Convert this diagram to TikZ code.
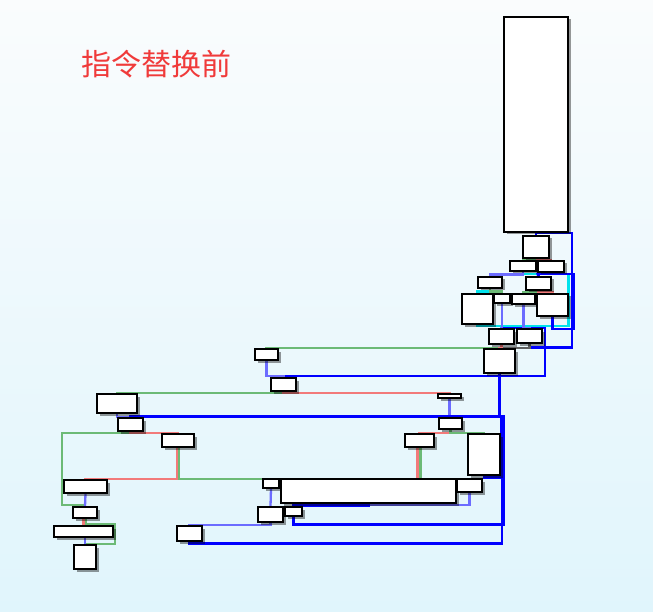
\documentclass[tikz,border=0pt]{standalone}
\usepackage{fontspec}
\newfontfamily\cjkfont{Noto Sans CJK SC}
\usepackage{tikz}
\usetikzlibrary{shadows}
\pgfdeclarelayer{back}
\pgfdeclarelayer{edges}
\pgfsetlayers{back,edges,main}
\definecolor{jmpblue}{RGB}{0,0,255}
\definecolor{seqblue}{RGB}{108,108,255}
\definecolor{truegreen}{RGB}{108,186,118}
\definecolor{falsered}{RGB}{242,122,122}
\definecolor{loopcyan}{RGB}{0,226,236}
\definecolor{mixgray}{RGB}{95,95,95}
\definecolor{titlered}{RGB}{240,58,58}
\definecolor{bgtop}{RGB}{250,252,253}
\definecolor{bgbottom}{RGB}{224,245,252}

\begin{document}
\begin{tikzpicture}[
			x=1pt, y=-1pt,
			blk/.style={draw=black, line width=1.3pt, fill=white, inner sep=0pt,
				drop shadow={shadow xshift=2.5pt, shadow yshift=-2.5pt, opacity=.4, fill=black}},
			link/.style={line width=2.3pt},
			bl/.style={link, line width=2.6pt, draw=jmpblue},
			lb/.style={link, draw=seqblue},
			gr/.style={link, draw=truegreen},
			rd/.style={link, draw=falsered},
			cy/.style={link, draw=loopcyan},
			dg/.style={link, draw=mixgray}
			]
			\useasboundingbox (0,0) rectangle (653,612);
			\begin{pgfonlayer}{back}
				\shade[top color=bgtop, bottom color=bgbottom] (0,0) rectangle (653,612);
			\end{pgfonlayer}
			\node[anchor=base west, inner sep=0pt, text=titlered,
				font=\cjkfont\fontsize{30}{32}\selectfont] (title) at (81,75.5) {指令替换前};
			\node[blk, minimum width=64, minimum height=215] (bb0) at (536,124.5) {};
			\node[blk, minimum width=26, minimum height=22] (bb1) at (536,247) {};
			\node[blk, minimum width=26, minimum height=10] (bb2) at (523,266) {};
			\node[blk, minimum width=26, minimum height=11] (bb3) at (551,266.5) {};
			\node[blk, minimum width=24, minimum height=11] (bb4) at (490,282.5) {};
			\node[blk, minimum width=25, minimum height=13] (bb5) at (538.5,283.5) {};
			\node[blk, minimum width=31, minimum height=30] (bb6) at (477.5,309) {};
			\node[blk, minimum width=16, minimum height=9] (bb7) at (502,298.5) {};
			\node[blk, minimum width=23, minimum height=10] (bb8) at (523.5,299) {};
			\node[blk, minimum width=31, minimum height=22] (bb9) at (552.5,305) {};
			\node[blk, minimum width=25, minimum height=15] (bb10) at (501.5,336.5) {};
			\node[blk, minimum width=25, minimum height=14] (bb11) at (529.5,336) {};
			\node[blk, minimum width=31, minimum height=24] (bb12) at (499.5,361) {};
			\node[blk, minimum width=23, minimum height=11] (bb13) at (266.5,354.5) {};
			\node[blk, minimum width=25, minimum height=13] (bb14) at (283.5,384.5) {};
			\node[blk, minimum width=23, minimum height=4] (bb15) at (449.5,396) {};
			\node[blk, minimum width=40, minimum height=19] (bb16) at (117,403.5) {};
			\node[blk, minimum width=25, minimum height=13] (bb17) at (130.5,424.5) {};
			\node[blk, minimum width=32, minimum height=13] (bb18) at (178,440.5) {};
			\node[blk, minimum width=23, minimum height=11] (bb19) at (450.5,423.5) {};
			\node[blk, minimum width=29, minimum height=13] (bb20) at (419.5,440.5) {};
			\node[blk, minimum width=32, minimum height=41] (bb21) at (484,454.5) {};
			\node[blk, minimum width=43, minimum height=13] (bb22) at (85.5,486.5) {};
			\node[blk, minimum width=24, minimum height=11] (bb23) at (85,512.5) {};
			\node[blk, minimum width=59, minimum height=11] (bb24) at (83.5,531.5) {};
			\node[blk, minimum width=22, minimum height=24] (bb25) at (85,557) {};
			\node[blk, minimum width=16, minimum height=9] (bb26) at (271,483.5) {};
			\node[blk, minimum width=175, minimum height=24] (bb27) at (368.5,491) {};
			\node[blk, minimum width=25, minimum height=13] (bb28) at (469.5,485.5) {};
			\node[blk, minimum width=25, minimum height=15] (bb29) at (270.5,514.5) {};
			\node[blk, minimum width=17, minimum height=9] (bb30) at (293.5,511.5) {};
			\node[blk, minimum width=25, minimum height=15] (bb31) at (189.5,533.5) {};
			\begin{pgfonlayer}{edges}
				\draw[cy] (bb6.south) -- ++(0,1.2) -| (568.5,274) -| (bb4.north);
				\draw[cy] (bb4.south) -- ++(0,3) -| (bb6.north);
				\draw[bl] (bb0.south) -- (bb1.north);
				\draw[bl] (bb11.south) -- ++(0,4) -| (572,233) -| (bb1.north);
				\draw[gr] ([xshift=-1pt]bb1.south) -- ++(0,1.5) -| (bb2.north);
				\draw[rd] ([xshift=1pt]bb1.south) -- ++(0,1.5) -| (bb3.north);
				\draw[bl] (bb9.south) -- ++(0,12.5) -| (574,274) -| (bb5.north);
				\draw[lb] (bb2.south) -- ++(0,3) -| (bb4.north);
				\draw[bl] (bb3.south west) -- (bb5.north);
				\draw[gr] (bb4.south) -- ++(0,3) -| (bb7.north);
				\draw[gr] (bb5.south) -- ++(0,1.5) -| (bb8.north);
				\draw[rd] (bb5.south) -- ++(0,1.5) -| (bb9.north);
				\draw[bl] (bb7.south) -- ++(0,24.5) -| (545,376) -| (bb14.north);
				\draw[lb] (bb7.south) -- ++(0,24.5) -| (bb10.north);
				\draw[lb] (bb8.south) -- ++(0,23.5) -| (bb11.north);
				\draw[gr] (bb10.south) -- ++(0,3) -| (bb13.north);
				\draw[dg] (bb11.south) -- ++(0,4) -| ([xshift=2pt]bb12.north);
				\draw[rd] (bb10.south) -- ++(0,3) -| (bb12.north);
				\draw[lb] (bb13.south) -- ++(0,15) -| (bb14.north);
				\draw[bl] (bb12.south) -- ++(0,43) -| (bb17.north);
				\draw[gr] (bb14.south) -- ++(0,1.5) -| (bb16.north);
				\draw[rd] (bb14.south) -- ++(0,1.5) -| (bb15.north);
				\draw[lb] (bb15.south) -- ++(0,18) -| (bb19.north);
				\draw[lb] (bb16.south) -- ++(0,3) -| (bb17.north);
				\draw[gr] (bb17.south) -- ++(0,1.5) -| (62,505) -| (bb23.north);
				\draw[rd] (bb17.south) -- ++(0,1.5) -| (bb18.north);
				\draw[rd] ([xshift=-1pt]bb18.south) -- ++(0,31) -| (bb22.north);
				\draw[gr] ([xshift=1pt]bb18.south) -- ++(0,31) -| (bb26.north);
				\draw[lb] (bb22.south) -- (bb23.north);
				\draw[rd] ([xshift=-1.5pt]bb23.south) -- (bb24.north);
				\draw[gr] ([xshift=1pt]bb23.south) -- ++(0,5) -| (115,544) -| (bb25.north);
				\draw[lb] ([xshift=1.5pt]bb24.south) -- (bb25.north);
				\draw[lb] (bb26.south) -- (bb29.north);
				\draw[rd] (bb19.south) -- ++(0,3) -| (bb20.north);
				\draw[gr] (bb19.south) -- ++(0,3) -| (bb21.north);
				\draw[rd] ([xshift=-2pt]bb20.south) -- ++(0,31) -| (bb27.north);
				\draw[gr] ([xshift=1pt]bb20.south) -- ++(0,31) -| (bb28.north);
				\draw[bl] (bb21.south) -- ++(0,2) -| (501,416) -| (bb19.north);
				\draw[lb] (bb28.south) -- ++(0,12.5) -| (bb30.north);
				\draw[bl] (bb27.south) -- ++(0,2) -| (bb30.north);
				\draw[lb] (bb29.south) -- ++(0,2) -| (bb31.north);
				\draw[bl] (bb30.south) -- ++(0,8) -| (503.5,416) -| (bb17.north);
				\draw[bl] (bb31.south) -- ++(0,2) -| (502,416) -| (bb17.north);
			\end{pgfonlayer}
		\end{tikzpicture}
\end{document}
